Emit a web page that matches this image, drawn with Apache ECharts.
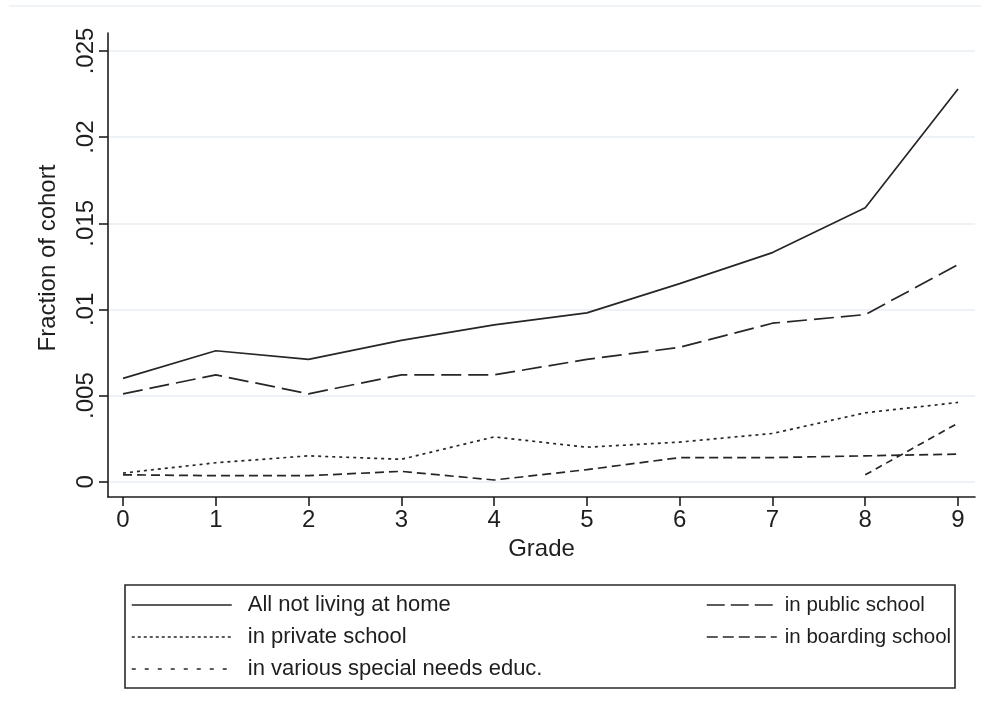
<!DOCTYPE html>
<html>
<head>
<meta charset="utf-8">
<script src="https://cdn.jsdelivr.net/npm/echarts@6/dist/echarts.min.js"></script>
<style>
  html, body { margin: 0; padding: 0; background: #ffffff; }
  #chart { width: 990px; height: 724px; }
</style>
</head>
<body>
<div id="chart"></div>
<script>
// Grades on the horizontal axis
const grades = [0, 1, 2, 3, 4, 5, 6, 7, 8, 9];

// Fraction of cohort not living at home, by grade
const allNotHome     = [0.0060, 0.0076, 0.0071, 0.0082, 0.0091, 0.0098, 0.0115, 0.0133, 0.0159, 0.0228];
const publicSchool   = [0.0051, 0.0062, 0.0051, 0.0062, 0.0062, 0.0071, 0.0078, 0.0092, 0.0097, 0.0126];
const privateSchool  = [0.0005, 0.0011, 0.0015, 0.0013, 0.0026, 0.0020, 0.0023, 0.0028, 0.0040, 0.0046];
const boardingSchool = [null, null, null, null, null, null, null, null, 0.0004, 0.0034];
const specialNeeds   = [0.0004, 0.00035, 0.00035, 0.0006, 0.0001, 0.0007, 0.0014, 0.0014, 0.0015, 0.0016];

// Axis ticks and their printed labels
const yTicks = [0, 0.005, 0.01, 0.015, 0.02, 0.025];
const yTickLabels = ['0', '.005', '.01', '.015', '.02', '.025'];

const seriesNames = [
  'All not living at home',
  'in public school',
  'in private school',
  'in boarding school',
  'in various special needs educ.'
];

const FONT = '"Liberation Sans", Arial, sans-serif';
const INK = '#1e1e1e';

function pairs(values) {
  const out = [];
  grades.forEach((g, i) => { if (values[i] !== null) out.push([g, values[i]]); });
  return out;
}

function lineSeries(name, values, dash) {
  return {
    name: name,
    type: 'line',
    data: pairs(values),
    symbol: 'none',
    showSymbol: false,
    smooth: false,
    animation: false,
    lineStyle: { color: '#262626', width: 1.7, type: dash },
    itemStyle: { color: '#262626' },
    emphasis: { disabled: true }
  };
}

// Legend keys show only the line pattern, no point marker
function legendItem(name, dash) {
  return {
    name: name,
    itemStyle: { opacity: 0 },
    lineStyle: { type: dash, width: 1.5, color: '#262626', opacity: 1 }
  };
}

const chart = echarts.init(document.getElementById('chart'), null, { renderer: 'canvas' });

chart.setOption({
  backgroundColor: '#ffffff',
  animation: false,
  grid: { left: 108, right: 15, top: 33, bottom: 227, containLabel: false },
  xAxis: {
    type: 'value',
    min: -0.162,
    max: 9.183,
    name: 'Grade',
    nameLocation: 'middle',
    nameGap: 36,
    nameTextStyle: { fontFamily: FONT, fontSize: 24, color: INK },
    axisLine: { show: true, onZero: false, lineStyle: { color: INK, width: 1.6 } },
    axisTick: { show: true, length: 9, customValues: grades, lineStyle: { color: INK, width: 1.6 } },
    axisLabel: {
      customValues: grades,
      margin: 11,
      fontFamily: FONT, fontSize: 24, color: INK,
      formatter: v => String(Math.round(v))
    },
    splitLine: { show: false }
  },
  yAxis: {
    type: 'value',
    min: -0.000888,
    max: 0.026045,
    name: 'Fraction of cohort',
    nameLocation: 'middle',
    nameGap: 48,
    nameRotate: 90,
    nameTextStyle: { fontFamily: FONT, fontSize: 24, color: INK, padding: [0, 0, 0, 14] },
    axisLine: { show: true, onZero: false, lineStyle: { color: INK, width: 1.6 } },
    axisTick: { show: true, length: 9, customValues: yTicks, lineStyle: { color: INK, width: 1.6 } },
    axisLabel: {
      customValues: yTicks,
      rotate: 90,
      margin: 10,
      fontFamily: FONT, fontSize: 24, color: INK,
      formatter: v => {
        const i = yTicks.findIndex(t => Math.abs(t - v) < 1e-9);
        return i >= 0 ? yTickLabels[i] : '';
      }
    },
    splitLine: { show: true, lineStyle: { color: '#e8eef4', width: 1.5 } }
  },
  legend: [
    {
      orient: 'vertical',
      left: 131,
      top: 593,
      itemWidth: 100,
      itemHeight: 24,
      itemGap: 8,
      padding: 0,
      selectedMode: false,
      textStyle: { fontFamily: FONT, fontSize: 22, color: INK, lineHeight: 24, padding: [0, 0, 0, 11] },
      data: [
        legendItem(seriesNames[0], 'solid'),
        legendItem(seriesNames[2], [3, 3]),
        legendItem(seriesNames[4], [4, 9])
      ]
    },
    {
      orient: 'vertical',
      left: 706,
      top: 593,
      itemWidth: 70,
      itemHeight: 24,
      itemGap: 8,
      padding: 0,
      selectedMode: false,
      textStyle: { fontFamily: FONT, fontSize: 20.5, color: INK, lineHeight: 24, padding: [0, 0, 0, 3] },
      data: [
        legendItem(seriesNames[1], [18, 6]),
        legendItem(seriesNames[3], [11, 5])
      ]
    }
  ],
  graphic: [
    {
      type: 'rect',
      silent: true,
      shape: { x: 125, y: 585, width: 830, height: 103 },
      style: { fill: 'none', stroke: '#2a2a2a', lineWidth: 1.6 }
    },
    {
      type: 'line',
      silent: true,
      shape: { x1: 9, y1: 6, x2: 981, y2: 6 },
      style: { stroke: '#edf1f5', lineWidth: 1.5 }
    }
  ],
  series: [
    lineSeries(seriesNames[0], allNotHome, 'solid'),
    lineSeries(seriesNames[1], publicSchool, [20, 7]),
    lineSeries(seriesNames[2], privateSchool, [3, 4]),
    lineSeries(seriesNames[3], boardingSchool, [7, 5]),
    lineSeries(seriesNames[4], specialNeeds, [9, 5])
  ]
});
</script>
</body>
</html>
